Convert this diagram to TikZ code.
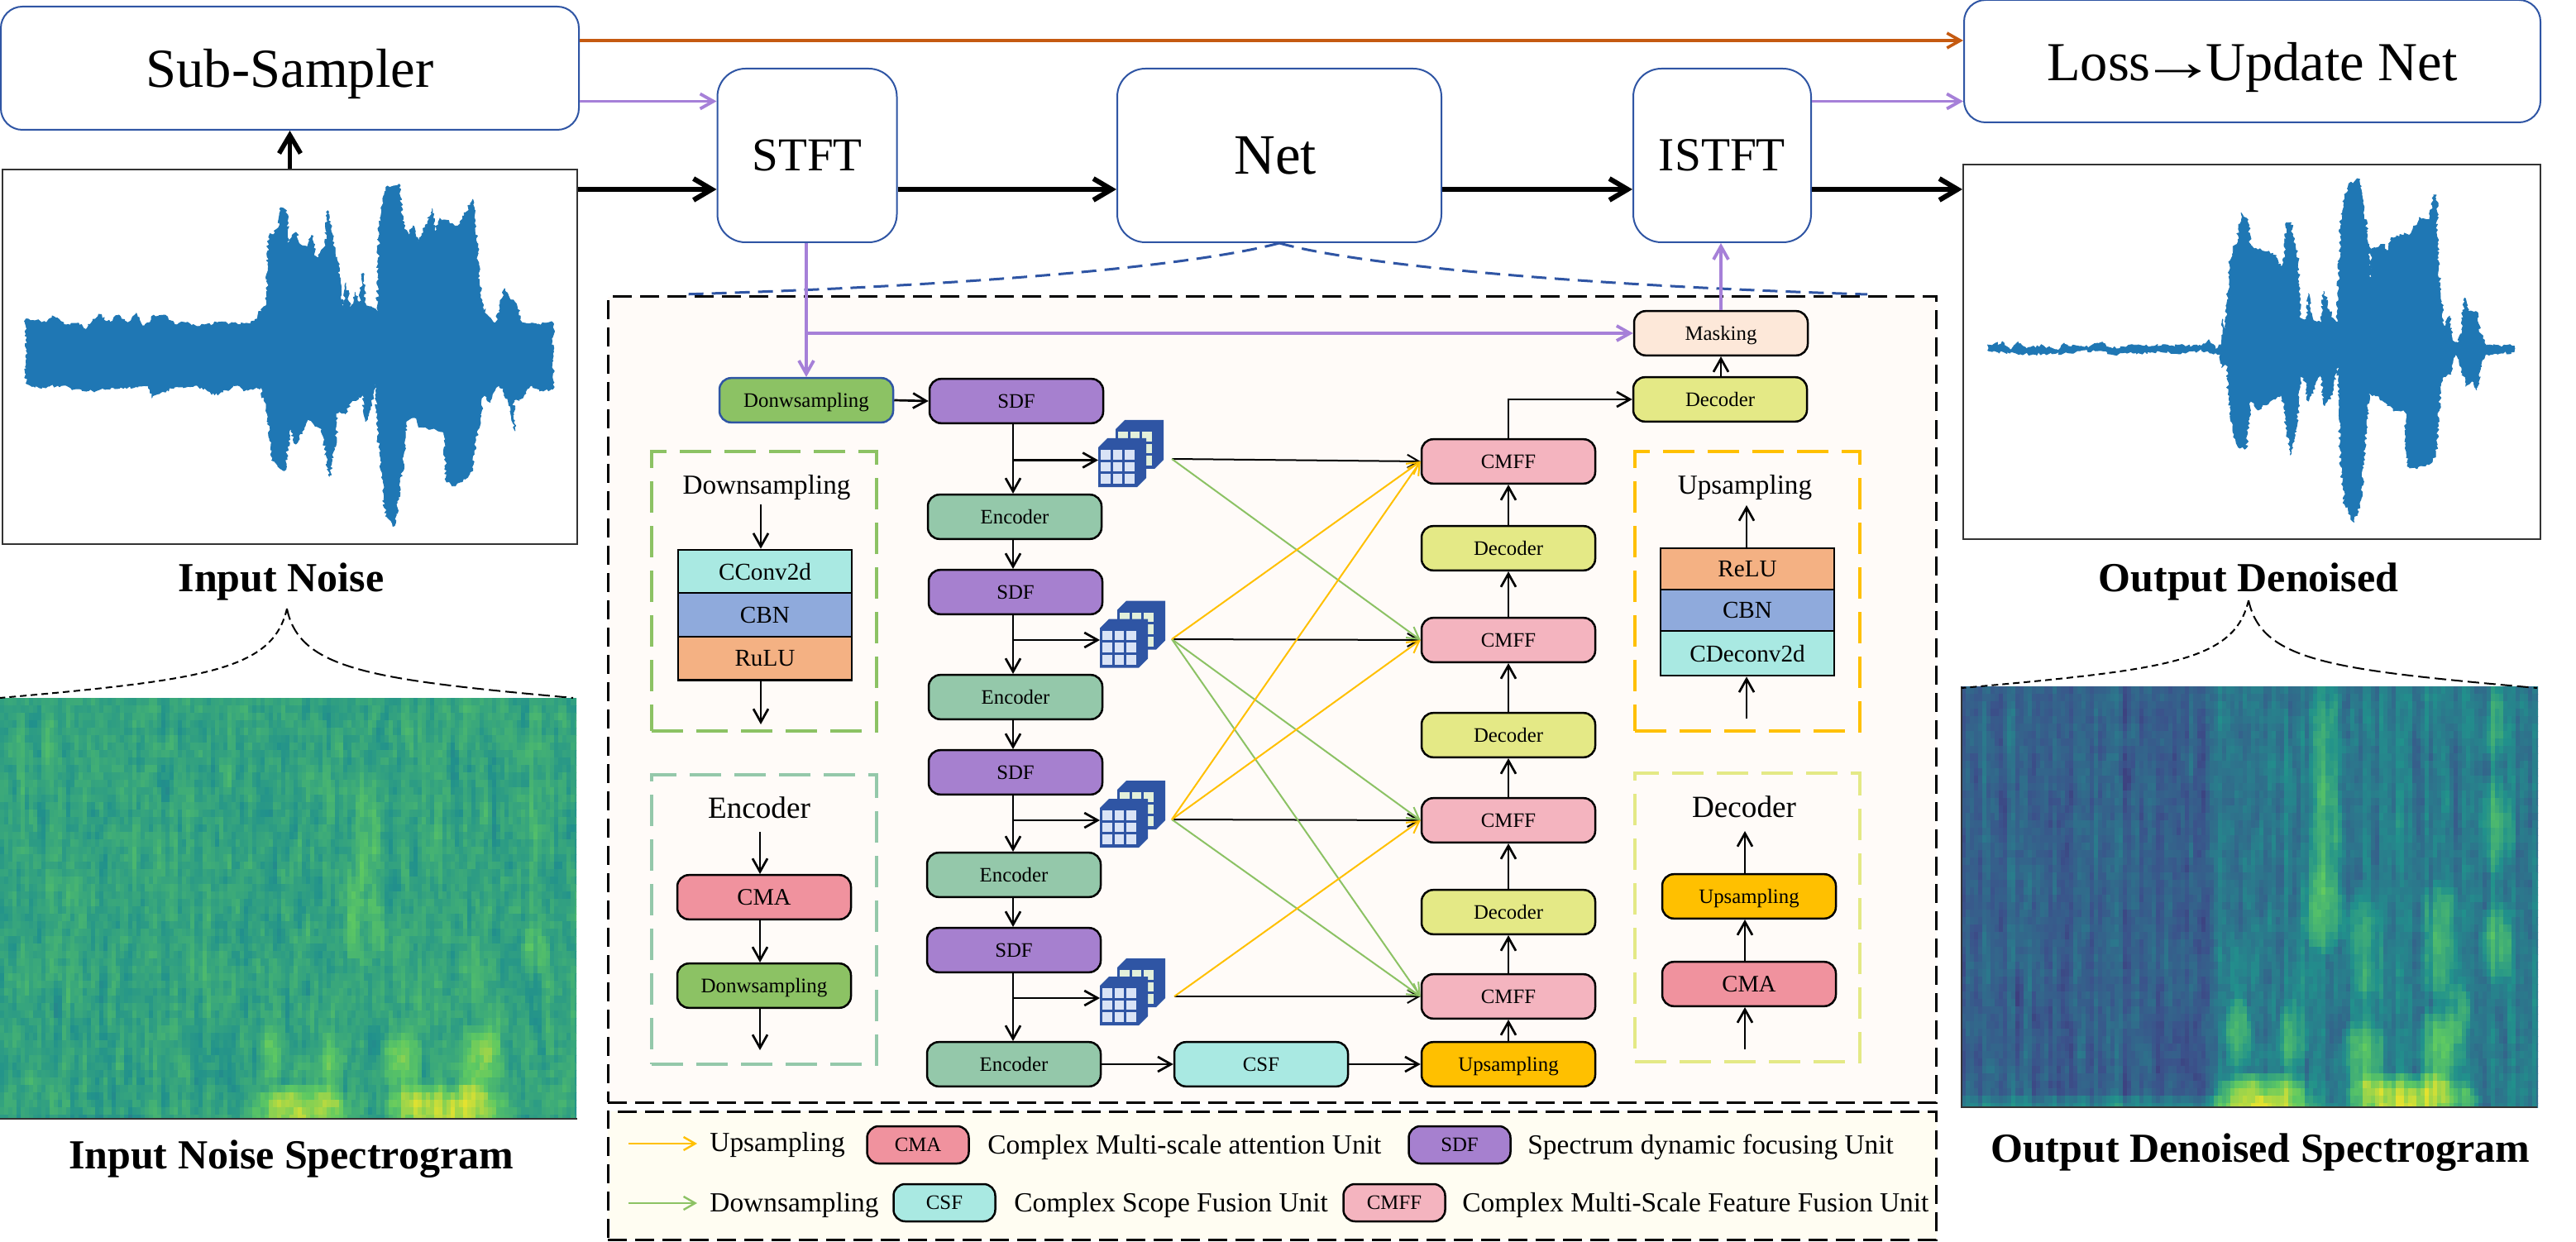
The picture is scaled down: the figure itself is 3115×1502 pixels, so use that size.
\documentclass[tikz,border=0pt]{standalone}
\usepackage{fontspec}
\setmainfont{Liberation Serif}
\usetikzlibrary{arrows.meta,decorations.pathmorphing}
\newcommand\fsz[1]{\fontsize{#1}{#1}\selectfont}
\definecolor{bluebd}{HTML}{2F55A4}
\definecolor{cdown}{HTML}{8CC264}
\definecolor{cenc}{HTML}{94C8AA}
\definecolor{csdf}{HTML}{A680CF}
\definecolor{ccmff}{HTML}{F4B4BF}
\definecolor{cdec}{HTML}{E4E986}
\definecolor{cmask}{HTML}{FDE8D9}
\definecolor{cup}{HTML}{FFC000}
\definecolor{ccsf}{HTML}{A9E9E2}
\definecolor{ccma}{HTML}{F0929E}
\definecolor{ccbn}{HTML}{8FAADC}
\definecolor{crelu}{HTML}{F4B183}
\definecolor{cpurple}{HTML}{A680D8}
\definecolor{corange}{HTML}{C55A11}
\definecolor{cwave}{HTML}{1F77B4}
\definecolor{cframe}{HTML}{333333}
\definecolor{cmainbg}{HTML}{FFFBF8}
\definecolor{clegbg}{HTML}{FFFDF2}
\definecolor{cellback}{HTML}{E3F0DA}
\definecolor{cellfront}{HTML}{D9E3F6}
\makeatletter
\newcount\spxx \newcount\spyy \newcount\spdd \newcount\spvv \newcount\spseed
\newcount\spr \newcount\spc \newcount\spseg \newcount\spfr \newcount\sprnd \newcount\sptmp \newcount\spprev
\def\spnext{\spseed=\numexpr\spseed*25173+13849\relax
  \sptmp=\spseed \divide\sptmp by 65536 \multiply\sptmp by 65536 \advance\spseed by -\sptmp
  \sprnd=\numexpr\spseed/66-496\relax}
\def\bmp#1#2#3#4#5{%
  \spdd=\numexpr(\spxx-#1)*(\spxx-#1)*1000/(#3*#3)+(\spyy-#2)*(\spyy-#2)*1000/(#4*#4)\relax
  \ifnum\spdd<1000 \advance\spvv by \numexpr #5*(1000-\spdd)/1000\relax\fi}
\def\splerp#1#2#3#4#5#6{\edef\sprgb{\the\numexpr#1+(#4-#1)*\spfr/250\relax,\the\numexpr#2+(#5-#2)*\spfr/250\relax,\the\numexpr#3+(#6-#3)*\spfr/250\relax}}
\def\specdraw#1#2#3#4#5#6#7{% x0 y0 height base noiseamp colamp bumps
  \pgfscope
  \pgfpathrectangle{\pgfqpoint{\dimexpr0.5pt*#1\relax}{\dimexpr-0.5pt*#2\relax}}{\pgfqpoint{348.5pt}{\dimexpr-0.5pt*#3\relax}}\pgfusepath{clip}%
  \spc=0
  \@whilenum\spc<141\do{\spnext
    \expandafter\edef\csname spn\the\spc\endcsname{0}%
    \expandafter\edef\csname spb\the\spc\endcsname{\the\sprnd}%
    \advance\spc 1 }%
  \spr=0
  \@whilenum\spr<58\do{%
    \spc=0 \spprev=0
    \spyy=\numexpr#2+9*\spr+4\relax
    \@whilenum\spc<140\do{%
      \spnext
      \spxx=\numexpr5*\spc+2\relax
      \expandafter\edef\csname spn\the\spc\endcsname{\the\numexpr(2*\csname spn\the\spc\endcsname+\sprnd)/3\relax}%
      \spvv=\numexpr #3*0+#4+(2*\csname spn\the\spc\endcsname+\spprev)/3*#5/500+\csname spb\the\spc\endcsname*#6/500\relax
      \spprev=\csname spn\the\spc\endcsname\relax
      #7%
      \ifnum\spvv<0 \spvv=0 \fi
      \ifnum\spvv>960 \spvv=960 \fi
      \spseg=\spvv \divide\spseg by 250
      \spfr=\numexpr\spvv-250*\spseg\relax
      \ifcase\spseg \splerp{68}{1}{84}{59}{82}{139}\or\splerp{59}{82}{139}{33}{145}{140}\or\splerp{33}{145}{140}{94}{201}{98}\or\splerp{94}{201}{98}{253}{231}{37}\fi
      \definecolor{sc}{RGB}{\sprgb}%
      \pgfsetfillcolor{sc}%
      \pgfpathrectangle{\pgfqpoint{\dimexpr0.5pt*(#1+5*\spc)\relax}{\dimexpr-0.5pt*\numexpr#2+9*\spr\relax\relax}}{\pgfqpoint{3pt}{-5pt}}%
      \pgfusepath{fill}%
      \advance\spc 1 }%
    \advance\spr 1 }%
  \endpgfscope}
\makeatother
\tikzset{
  topbox/.style={draw=bluebd,line width=1pt,fill=white,inner sep=0pt,text depth=0pt},
  unit/.style={draw=black,line width=1.25pt,rounded corners=7pt,minimum width=105pt,minimum height=26.8pt,inner sep=0pt,text depth=0pt,font=\fsz{12.4}},
  legunit/.style={unit,minimum width=61.5pt,minimum height=22.5pt},
  dsbox/.style={unit,fill=cdown},
  encbox/.style={unit,fill=cenc},
  sdfbox/.style={unit,fill=csdf},
  cmffbox/.style={unit,fill=ccmff},
  decbox/.style={unit,fill=cdec},
  upbox/.style={unit,fill=cup},
  csfbox/.style={unit,fill=ccsf},
  cmabox/.style={unit,fill=ccma},
  layerbox/.style={draw=black,line width=1.4pt,minimum width=105pt,inner sep=0pt,text depth=0pt,font=\fsz{14.6}},
  panel/.style={line width=1.8pt,dash pattern=on 19pt off 8pt},
  outerdash/.style={draw=black,line width=1.5pt,dash pattern=on 11.5pt off 5pt},
  title/.style={inner sep=0pt,font=\bfseries\fsz{25}},
  ptitle/.style={inner sep=0pt,anchor=base},
  ltext/.style={inner sep=0pt,anchor=base west,font=\fsz{16.7}},
  arr/.style={draw=black,line width=1.35pt,-{Straight Barb[length=8pt,width=9pt]}},
  thin arr/.style={line width=1pt,-{Straight Barb[length=7pt,width=8pt]}},
  big arr/.style={draw=black,line width=3pt,-{Straight Barb[length=11pt,width=13pt]}},
  purp arr/.style={draw=cpurple,line width=1.9pt,-{Straight Barb[length=8pt,width=9pt]}},
  curl/.style={draw=black,line width=1pt},
  wavefill/.style={fill=cwave,draw=cwave,line width=.4pt,line join=round,decorate,decoration={random steps,segment length=1.3pt,amplitude=1pt}},
  pics/cubelet/.style={code={
    \fill[bluebd] (0,0)--(11,-11)--(58,-11)--(58,37)--(47,48)--(0,48)--cycle;
    \foreach \i in {0,1,2} \foreach \j in {0,1,2}
      \fill[#1] (3+14.7*\i,3+14.7*\j) rectangle +(11.6,11.6);
  }},
  pics/featicon/.style={code={
    \pic at (21,-22) {cubelet={cellback}};
    \pic at (0,0) {cubelet={cellfront}};
  }},
}
\begin{document}
\begin{tikzpicture}[x=0.5pt,y=-0.5pt]
\fill[white] (0,0) rectangle (3115,1502);
\path[use as bounding box] (0,0) rectangle (3115,1502);
% helper rows
\coordinate (oy) at (0,49);
\coordinate (py) at (0,122.5);
\coordinate (my) at (0,229);

% spectrograms
\specdraw{0}{844}{509}{578}{190}{14}{%
  \bmp{365}{1345}{66}{38}{300}\bmp{334}{1328}{24}{18}{110}\bmp{402}{1328}{24}{18}{110}%
  \bmp{540}{1345}{86}{38}{320}\bmp{490}{1326}{32}{20}{110}\bmp{578}{1326}{37}{20}{90}%
  \bmp{330}{1280}{18}{44}{160}\bmp{402}{1280}{18}{42}{160}\bmp{485}{1280}{30}{44}{200}\bmp{577}{1285}{38}{48}{180}\bmp{592}{1250}{16}{38}{130}%
  \bmp{427}{1115}{14}{50}{120}\bmp{455}{1115}{14}{50}{120}\bmp{445}{1000}{22}{70}{70}\bmp{440}{1060}{20}{60}{60}%
  \bmp{645}{1150}{18}{40}{120}\bmp{645}{1010}{18}{50}{50}\bmp{485}{1170}{18}{60}{60}\bmp{500}{1230}{18}{50}{50}\bmp{577}{1180}{25}{60}{50}%
  \bmp{100}{1358}{200}{8}{-120}\bmp{660}{1358}{50}{8}{-100}}
\specdraw{2372}{830}{509}{\ifnum\spxx<305 310\else 410\fi}{160}{50}{%
  \bmp{365}{1332}{66}{38}{470}\bmp{335}{1312}{27}{20}{160}\bmp{402}{1312}{27}{20}{150}%
  \bmp{540}{1332}{86}{38}{500}\bmp{487}{1312}{34}{22}{170}\bmp{585}{1312}{37}{22}{130}\bmp{615}{1330}{15}{18}{120}%
  \bmp{335}{1255}{20}{54}{270}\bmp{400}{1255}{22}{48}{250}\bmp{486}{1270}{32}{48}{300}\bmp{578}{1265}{34}{54}{290}\bmp{600}{1225}{18}{42}{180}%
  \bmp{440}{900}{26}{90}{170}\bmp{440}{1010}{26}{80}{190}\bmp{438}{1100}{32}{55}{260}%
  \bmp{486}{1140}{26}{75}{190}\bmp{490}{1200}{22}{40}{110}\bmp{580}{1110}{30}{50}{190}\bmp{580}{1170}{30}{50}{170}%
  \bmp{646}{870}{20}{60}{140}\bmp{646}{1000}{24}{65}{220}\bmp{646}{1140}{24}{55}{260}\bmp{646}{1190}{16}{40}{60}%
  \bmp{340}{1180}{22}{80}{60}\bmp{410}{1170}{22}{70}{70}\bmp{150}{1342}{420}{22}{150}}
\draw[cframe,line width=1pt] (0,1353) -- (698,1353);
\draw[cframe,line width=1pt] (2372,830) -- (2372,1339) -- (3068,1339);

% input and output frames
\node[draw=cframe,line width=1pt,minimum width=347.5pt,minimum height=226.5pt,inner sep=0pt] (inwave) at (350.5,431.5) {};
\node[draw=cframe,line width=1pt,minimum width=349pt,minimum height=226.5pt,inner sep=0pt] (outwave) at (2723,425.5) {};
% input waveform
\pgfmathsetseed{7}
\begin{scope}[xscale=0.7015,yscale=0.4591]
\path[wavefill] (45,840)--(60,845)--(80,850)--(90,832)--(110,855)--(130,852)--(150,865)--(170,828)--(190,850)--(205,830)--(220,850)--(235,825)--(250,862)--(265,830)--(285,830)--(300,855)--(320,850)--(340,860)--(375,850)--(415,855)--(440,845)--(450,815)--(460,800)--(463,625)--(480,600)--(482,550)--(494,555)--(497,640)--(510,612)--(515,640)--(530,650)--(537,620)--(545,685)--(560,650)--(565,555)--(572,620)--(582,690)--(588,770)--(592,820)--(596,745)--(604,820)--(612,770)--(620,800)--(626,720)--(630,800)--(650,820)--(654,590)--(660,530)--(668,490)--(688,485)--(695,590)--(705,620)--(712,595)--(722,640)--(745,550)--(750,610)--(758,575)--(770,580)--(785,600)--(800,570)--(815,525)--(822,640)--(826,740)--(832,810)--(840,830)--(855,850)--(870,760)--(880,790)--(890,800)--(900,850)--(925,855)--(953,850)--(953,1025)--(930,1030)--(915,1015)--(895,1055)--(885,1050)--(888,1135)--(875,1050)--(860,1010)--(845,1060)--(832,1040)--(828,1110)--(820,1160)--(815,1240)--(785,1280)--(770,1270)--(765,1140)--(750,1130)--(725,1125)--(715,1100)--(700,1110)--(695,1220)--(680,1385)--(665,1360)--(655,1200)--(650,1120)--(648,1010)--(640,1060)--(630,1110)--(625,1040)--(605,1060)--(595,1090)--(582,1080)--(580,1140)--(568,1255)--(555,1130)--(530,1105)--(510,1170)--(500,1130)--(490,1240)--(470,1210)--(462,1100)--(455,1055)--(450,1020)--(420,1030)--(410,1015)--(370,1040)--(340,1015)--(300,1020)--(262,1048)--(255,1015)--(215,1020)--(150,1030)--(100,1015)--(60,1020)--(45,1010)--cycle;
\end{scope}
% output waveform
\begin{scope}[shift={(2350,0)},xscale=0.4878,yscale=0.542]
\path[wavefill] (110,770)--(150,765)--(165,780)--(185,763)--(205,778)--(240,772)--(280,780)--(300,768)--(350,775)--(395,765)--(420,778)--(480,770)--(540,772)--(640,772)--(658,758)--(675,780)--(688,770)--(692,712)--(700,735)--(710,590)--(718,550)--(728,545)--(738,475)--(755,490)--(760,550)--(785,555)--(825,570)--(835,595)--(848,570)--(850,497)--(862,497)--(865,525)--(878,560)--(885,710)--(900,712)--(905,655)--(915,710)--(935,720)--(943,650)--(955,690)--(975,725)--(985,510)--(990,450)--(1000,430)--(1005,410)--(1032,400)--(1040,450)--(1055,545)--(1058,620)--(1062,555)--(1090,545)--(1100,560)--(1110,530)--(1160,520)--(1180,485)--(1205,490)--(1215,435)--(1222,435)--(1225,570)--(1232,660)--(1242,735)--(1255,705)--(1262,760)--(1275,765)--(1285,735)--(1292,665)--(1300,695)--(1320,695)--(1332,745)--(1345,770)--(1415,772)--(1415,785)--(1345,790)--(1330,820)--(1322,870)--(1310,850)--(1295,862)--(1285,820)--(1270,790)--(1258,835)--(1240,840)--(1232,870)--(1220,1020)--(1200,1035)--(1175,1045)--(1150,1040)--(1145,915)--(1115,915)--(1090,895)--(1070,880)--(1055,880)--(1045,990)--(1035,1115)--(1018,1165)--(995,1125)--(985,1040)--(978,810)--(965,880)--(945,905)--(935,830)--(905,895)--(895,845)--(885,840)--(878,930)--(860,1015)--(848,935)--(840,880)--(810,895)--(780,915)--(762,895)--(750,1000)--(735,1000)--(718,965)--(708,890)--(702,815)--(690,820)--(688,790)--(670,790)--(640,780)--(600,788)--(540,785)--(470,788)--(415,790)--(390,782)--(280,788)--(200,790)--(165,788)--(110,782)--cycle;
\end{scope}

% top boxes
\node[topbox,rounded corners=13pt,minimum width=349.5pt,minimum height=74.5pt,font=\fsz{33.3}] (subs) at (350.5,82.5) {Sub-Sampler};
\node[topbox,rounded corners=17pt,minimum width=108.5pt,minimum height=105pt,font=\fsz{28.5}] (stft) at (976,188) {STFT};
\node[topbox,rounded corners=17pt,minimum width=196pt,minimum height=105pt,font=\fsz{34.5}] (net) at (1547,188) {Net\hspace*{5pt}};
\node[topbox,rounded corners=17pt,minimum width=107.5pt,minimum height=105pt,font=\fsz{28.7}] (istft) at (2082.5,188) {ISTFT};
\node[topbox,rounded corners=13pt,minimum width=348.5pt,minimum height=74pt,font=\fsz{33.25}] (loss) at (2723.5,74) {Loss\makebox[1em]{\scalebox{1.4}[1]{→}}Update Net};

% titles
\node[title,anchor=base] (tin) at (340,715) {Input Noise};
\node[title,anchor=base] (tout) at (2719,715) {Output Denoised};
\node[title,anchor=base] (tins) at (352,1413) {Input Noise Spectrogram};
\node[title,anchor=base] (touts) at (2733,1405) {Output Denoised Spectrogram};

% zoom curls
\coordinate (inap) at (347,736);
\coordinate (inl) at (0,844);
\coordinate (inr) at (693,844);
\coordinate (outap) at (2719,726);
\coordinate (outl) at (2372,832);
\coordinate (outr) at (3068,832);
\draw[curl,dash pattern=on 4pt off 2.5pt] (inap) .. controls (330,810) and (250,822) .. (inl);
\draw[curl,dash pattern=on 7pt off 3pt] (inap) .. controls (362,810) and (450,822) .. (inr);
\draw[curl,dash pattern=on 4pt off 2.5pt] (outap) .. controls (2702,800) and (2620,810) .. (outl);
\draw[curl,dash pattern=on 7pt off 3pt] (outap) .. controls (2735,800) and (2820,810) .. (outr);

% main and legend panels
\node[outerdash,fill=cmainbg,minimum width=803.25pt,minimum height=487pt,inner sep=0pt] (mainp) at (1538.25,846) {};
\node[outerdash,fill=clegbg,minimum width=803.25pt,minimum height=77.5pt,inner sep=0pt] (legp) at (1538.25,1421.5) {};

% net zoom curve
\coordinate (netl) at (825,356);
\coordinate (netr) at (2258,356);
\draw[bluebd,line width=1.5pt,dash pattern=on 9pt off 5pt] (net.south) .. controls (1450,320) and (1200,345) .. (netl);
\draw[bluebd,line width=1.5pt,dash pattern=on 9pt off 5pt] (net.south) .. controls (1640,320) and (1900,345) .. (netr);

% inner dashed panels
\node[draw=cdown,panel,minimum width=136pt,minimum height=169pt,inner sep=0pt] (pdown) at (924,715) {};
\node[draw=cenc,panel,minimum width=136pt,minimum height=175pt,inner sep=0pt] (penc) at (924,1112) {};
\node[draw=cup,panel,minimum width=136pt,minimum height=169pt,inner sep=0pt] (pup) at (2113,715) {};
\node[draw=cdec,panel,minimum width=136pt,minimum height=174.5pt,inner sep=0pt] (pdec) at (2113,1109.5) {};

% left column units
\node[dsbox,draw=bluebd] (ds0) at (975,484) {Donwsampling};
\node[sdfbox] (sdf1) at (1229,485) {SDF};
\node[encbox] (enc1) at (1227,625) {Encoder};
\node[sdfbox] (sdf2) at (1228,716) {SDF};
\node[encbox] (enc2) at (1228,843) {Encoder};
\node[sdfbox] (sdf3) at (1228,934) {SDF};
\node[encbox] (enc3) at (1226,1058) {Encoder};
\node[sdfbox] (sdf4) at (1226,1149) {SDF};
\node[encbox] (enc4) at (1226,1287) {Encoder};
\node[csfbox] (csf) at (1525,1287) {CSF};
% right column units
\node[cmffbox] (cmff1) at (1824,558) {CMFF};
\node[decbox] (dec1) at (1824,663) {Decoder};
\node[cmffbox] (cmff2) at (1824,774) {CMFF};
\node[decbox] (dec2) at (1824,889) {Decoder};
\node[cmffbox] (cmff3) at (1824,992) {CMFF};
\node[decbox] (dec3) at (1824,1103) {Decoder};
\node[cmffbox] (cmff4) at (1824,1205) {CMFF};
\node[upbox] (up0) at (1824,1287) {Upsampling};
\node[unit,fill=cmask] (mask) at (2081,403) {Masking};
\node[decbox] (dec0) at (2080,483) {Decoder};

% icons
\coordinate (stem) at (1225,0);
\coordinate (ic1) at (1328,556.5);
\coordinate (ic2) at (1330,774);
\coordinate (ic3) at (1330,992);
\coordinate (ic4) at (1330,1207);
\pic at (1328,541) {featicon};
\pic at (1330,759.5) {featicon};
\pic at (1330,977) {featicon};
\pic at (1330,1192) {featicon};
\coordinate (p1) at (1417,555);
\coordinate (p2) at (1417,773);
\coordinate (p3) at (1417,991);
\coordinate (p4) at (1420,1205);

% main column connectors
\draw[arr] (ds0.east) -- (sdf1.west);
\draw[arr] (sdf1.south -| stem) -- (enc1.north -| stem);
\draw[arr] (enc1.south -| stem) -- (sdf2.north -| stem);
\draw[arr] (sdf2.south -| stem) -- (enc2.north -| stem);
\draw[arr] (enc2.south -| stem) -- (sdf3.north -| stem);
\draw[arr] (sdf3.south -| stem) -- (enc3.north -| stem);
\draw[arr] (enc3.south -| stem) -- (sdf4.north -| stem);
\draw[arr] (sdf4.south -| stem) -- (enc4.north -| stem);
\draw[arr] (ic1 -| stem) -- (ic1);
\draw[arr] (ic2 -| stem) -- (ic2);
\draw[arr] (ic3 -| stem) -- (ic3);
\draw[arr] (ic4 -| stem) -- (ic4);
\draw[arr] (enc4.east) -- (csf.west);
\draw[arr] (csf.east) -- (up0.west);
\draw[arr] (up0.north) -- (cmff4.south);
\draw[arr] (cmff4.north) -- (dec3.south);
\draw[arr] (dec3.north) -- (cmff3.south);
\draw[arr] (cmff3.north) -- (dec2.south);
\draw[arr] (dec2.north) -- (cmff2.south);
\draw[arr] (cmff2.north) -- (dec1.south);
\draw[arr] (dec1.north) -- (cmff1.south);
\draw[arr] (cmff1.north) |- (dec0.west);
\draw[arr] (dec0.north -| mask.north) -- (mask.south);
% skip connections
\draw[thin arr,black] (p1) -- (cmff1.west);
\draw[thin arr,black] (p2) -- (cmff2.west);
\draw[thin arr,black] (p3) -- (cmff3.west);
\draw[thin arr,black] (p4) -- (cmff4.west);
\draw[thin arr,cdown] (p1) -- (cmff2.west);
\draw[thin arr,cdown] (p2) -- (cmff3.west);
\draw[thin arr,cdown] (p2) -- (cmff4.west);
\draw[thin arr,cdown] (p3) -- (cmff4.west);
\draw[thin arr,cup] (p2) -- (cmff1.west);
\draw[thin arr,cup] (p3) -- (cmff1.west);
\draw[thin arr,cup] (p3) -- (cmff2.west);
\draw[thin arr,cup] (p4) -- (cmff3.west);

% top connectors
\draw[draw=corange,line width=1.8pt,-{Straight Barb[length=8pt,width=9pt]}] (subs.east |- oy) -- (loss.west |- oy);
\draw[purp arr] (subs.east |- py) -- (stft.west |- py);
\draw[purp arr] (istft.east |- py) -- (loss.west |- py);
\draw[big arr] (inwave.east |- my) -- (stft.west |- my);
\draw[big arr] (stft.east |- my) -- (net.west |- my);
\draw[big arr] (net.east |- my) -- (istft.west |- my);
\draw[big arr] (istft.east |- my) -- (outwave.west |- my);
\draw[draw=black,line width=2.8pt,-{Straight Barb[length=11pt,width=13pt]}] (inwave.north -| subs.south) -- (subs.south);
\draw[purp arr] (stft.south -| ds0.north) -- (ds0.north);
\coordinate (brn) at (975,403);
\draw[draw=cpurple,line width=1.9pt,-{Straight Barb[length=8pt,width=9pt]}] (brn) -- (mask.west);
\draw[purp arr] (mask.north) -- (mask.north |- istft.south);

% downsampling panel
\node[ptitle,font=\fsz{16.6}] (tds) at (927,597) {Downsampling};
\node[layerbox,fill=ccsf,minimum height=26pt] (cconv) at (925,691) {CConv2d};
\node[layerbox,fill=ccbn,minimum height=26.5pt] (cbn1) at (925,743.5) {CBN};
\node[layerbox,fill=crelu,minimum height=26.3pt] (rulu) at (925,796.3) {RuLU};
\coordinate (dsin) at (920,610);
\coordinate (dsout) at (920,876);
\draw[arr] (dsin) -- (cconv.north -| dsin);
\draw[arr] (rulu.south -| dsout) -- (dsout);
% encoder panel
\node[ptitle,font=\fsz{18.6}] (tenc) at (918,989) {Encoder};
\node[cmabox,font=\fsz{14.3}] (cma1) at (924,1085) {CMA};
\node[dsbox,font=\fsz{12.5}] (ds1) at (924,1192) {Donwsampling};
\coordinate (encin) at (919,1006);
\coordinate (encout) at (919,1270);
\draw[arr] (encin) -- (cma1.north -| encin);
\draw[arr] (cma1.south -| encin) -- (ds1.north -| encin);
\draw[arr] (ds1.south -| encin) -- (encout);
% upsampling panel
\node[ptitle,font=\fsz{16.6}] (tup) at (2110,597) {Upsampling};
\node[layerbox,fill=crelu,minimum height=25pt] (relu) at (2113,688) {ReLU};
\node[layerbox,fill=ccbn,minimum height=25pt] (cbn2) at (2113,738) {CBN};
\node[layerbox,fill=ccsf,minimum height=27pt] (cdec) at (2113,790) {CDeconv2d};
\coordinate (upout) at (2112,611);
\coordinate (upin) at (2112,869);
\draw[arr] (relu.north -| upout) -- (upout);
\draw[arr] (upin) -- (cdec.south -| upin);
% decoder panel
\node[ptitle,font=\fsz{18.6}] (tdec) at (2109,988) {Decoder};
\node[upbox] (up1) at (2115,1084) {Upsampling};
\node[cmabox,font=\fsz{14.3}] (cma2) at (2115,1190) {CMA};
\coordinate (decout) at (2110,1005);
\coordinate (decin) at (2110,1269);
\draw[arr] (up1.north -| decout) -- (decout);
\draw[arr] (cma2.north -| decout) -- (up1.south -| decout);
\draw[arr] (decin) -- (cma2.south -| decin);

% legend
\coordinate (ly1) at (760,1383);
\coordinate (ly2) at (843,1383);
\coordinate (lg1) at (760,1455);
\coordinate (lg2) at (843,1455);
\draw[thin arr,cup,line width=1.2pt] (ly1) -- (ly2);
\draw[thin arr,cdown,line width=1.2pt] (lg1) -- (lg2);
\node[ltext] (l1) at (858,1392) {Upsampling};
\node[legunit,fill=ccma] (lcma) at (1110,1384.5) {CMA};
\node[ltext] (l2) at (1194,1395) {Complex Multi-scale attention Unit};
\node[legunit,fill=csdf] (lsdf) at (1765,1384.5) {SDF};
\node[ltext] (l3) at (1847,1395) {Spectrum dynamic focusing Unit};
\node[ltext] (l4) at (858,1465) {Downsampling};
\node[legunit,fill=ccsf] (lcsf) at (1142,1454.5) {CSF};
\node[ltext] (l5) at (1226,1465) {Complex Scope Fusion Unit};
\node[legunit,fill=ccmff] (lcmff) at (1686,1454.5) {CMFF};
\node[ltext] (l6) at (1768,1465) {Complex Multi-Scale Feature Fusion Unit};
\end{tikzpicture}
\end{document}
